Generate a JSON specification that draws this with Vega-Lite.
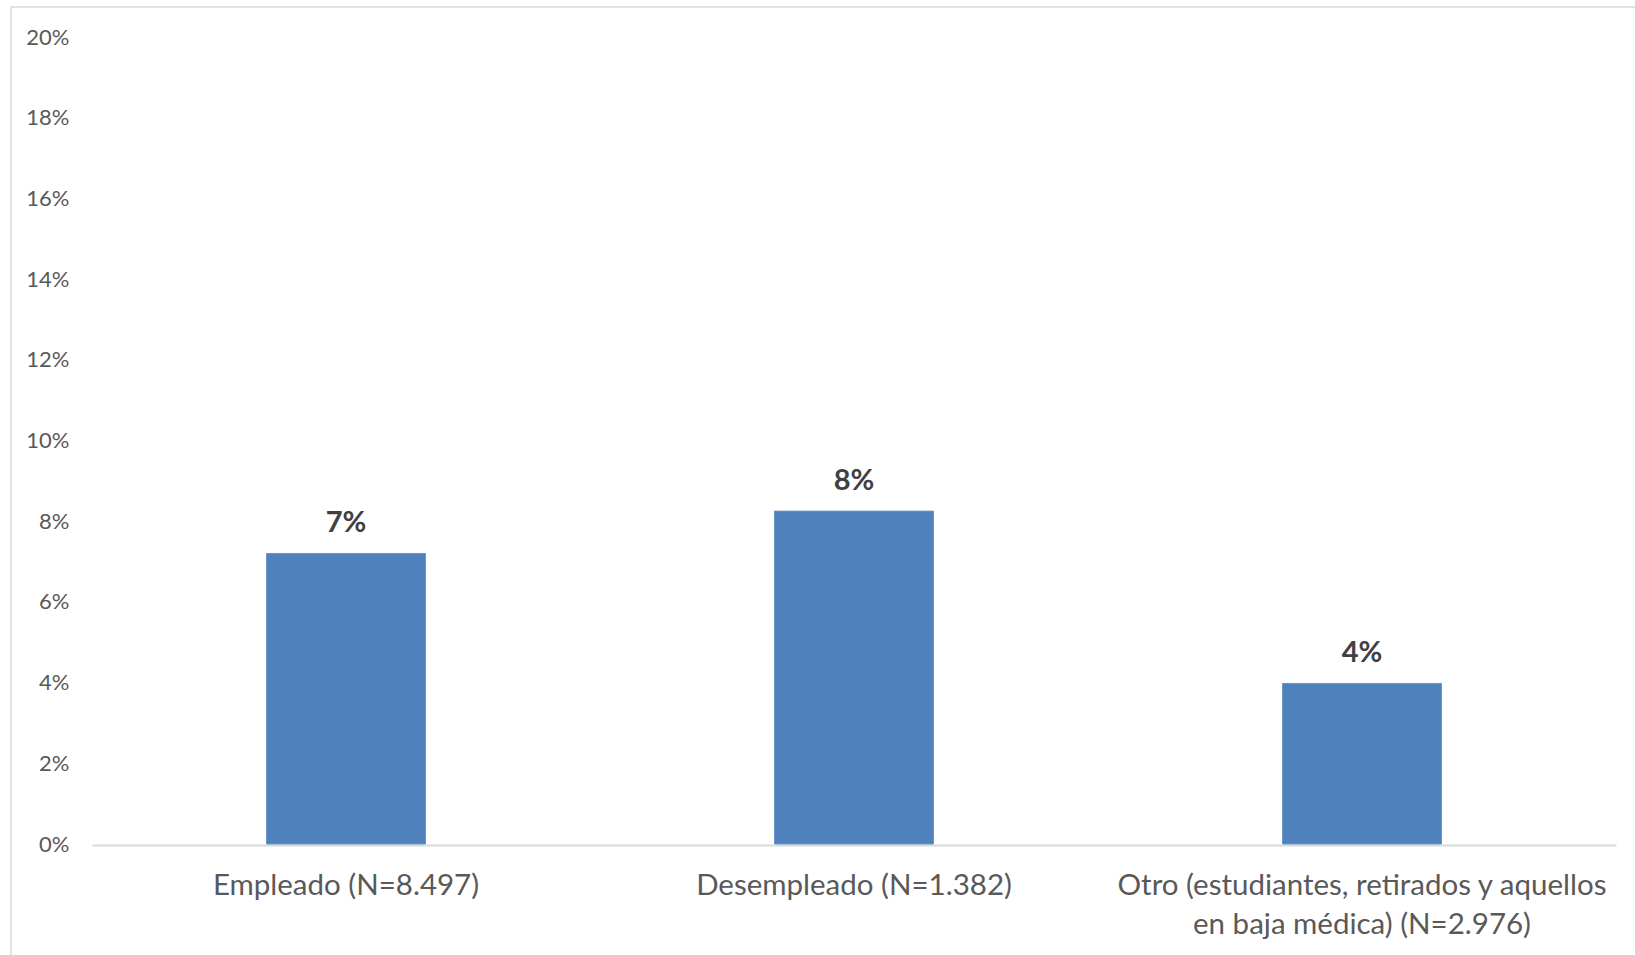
{
  "$schema": "https://vega.github.io/schema/vega-lite/v6.json",
  "autosize": {"type": "none"},
  "padding": {"left": 11, "top": 7, "right": 0, "bottom": 0},
  "width": 1627,
  "height": 951,
  "background": "white",
  "config": {
    "view": {"stroke": "#d9d9d9", "strokeWidth": 1.5},
    "font": "Lato"
  },
  "data": {
    "values": [
      {"categoria": "Empleado (N=8.497)", "valor": 0.072, "etiqueta": "7%"},
      {"categoria": "Desempleado (N=1.382)", "valor": 0.0825, "etiqueta": "8%"},
      {"categoria": "Otro (estudiantes, retirados y aquellos en baja médica) (N=2.976)", "valor": 0.0398, "etiqueta": "4%"}
    ]
  },
  "encoding": {
    "x": {
      "field": "categoria",
      "type": "nominal",
      "sort": null,
      "scale": {"range": [81, 1605], "paddingInner": 0.687, "paddingOuter": 0.3435},
      "axis": {
        "title": null,
        "orient": "bottom",
        "offset": -113,
        "domainColor": "#d9d9d9",
        "domainWidth": 2,
        "ticks": false,
        "labelAngle": 0,
        "labelFont": "Lato",
        "labelFontSize": 29.5,
        "labelColor": "#595959",
        "labelPadding": 26,
        "labelBaseline": "top",
        "labelLineHeight": 39,
        "labelLimit": 0,
        "labelExpr": "datum.label == 'Otro (estudiantes, retirados y aquellos en baja médica) (N=2.976)' ? ['Otro (estudiantes, retirados y aquellos', 'en baja médica) (N=2.976)'] : datum.label"
      }
    },
    "y": {
      "field": "valor",
      "type": "quantitative",
      "scale": {"domain": [0, 0.2], "range": [837, 30], "nice": false},
      "axis": {
        "title": null,
        "values": [0, 0.02, 0.04, 0.06, 0.08, 0.1, 0.12, 0.14, 0.16, 0.18, 0.2],
        "format": ".0%",
        "offset": -58,
        "domain": false,
        "ticks": false,
        "grid": false,
        "labelPadding": 0,
        "labelFont": "Lato",
        "labelFontSize": 22,
        "labelColor": "#595959"
      }
    }
  },
  "layer": [
    {
      "mark": {"type": "bar", "color": "#4f81bd", "stroke": "#6a95c9", "strokeWidth": 1}
    },
    {
      "mark": {"type": "text", "baseline": "alphabetic", "dy": -21, "font": "Lato", "fontSize": 29, "fontWeight": "bold", "color": "#404040"},
      "encoding": {"text": {"field": "etiqueta"}}
    }
  ]
}
